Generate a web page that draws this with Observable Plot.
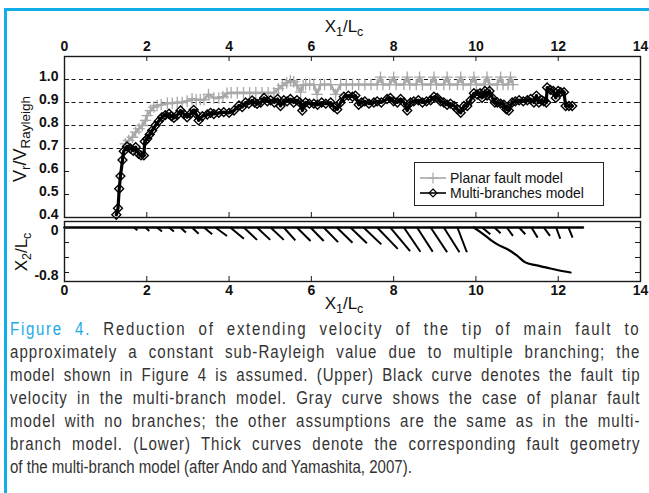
<!DOCTYPE html>
<html>
<head>
<meta charset="utf-8">
<script src="https://cdn.jsdelivr.net/npm/d3@7"></script>
<script src="https://cdn.jsdelivr.net/npm/@observablehq/plot@0.6"></script>
<style>
  html, body { margin: 0; padding: 0; background: #fff; }
  body { width: 649px; height: 493px; overflow: hidden; position: relative;
         font-family: "Liberation Sans", Arial, sans-serif; }
  #rim { position: absolute; left: 4px; top: 8px; width: 700px; height: 520px;
         border-left: 3px solid #12aee8; border-top: 3px solid #12aee8; }
  .panel { position: absolute; left: 0; }
  .title { position: absolute; font-size: 17px; color: #111; white-space: nowrap; line-height: 1; }
  .title sub { font-size: 12.5px; vertical-align: -4px; }
  .title.big { font-size: 18px; }
  .title.big sub { font-size: 13.5px; }
  .rot { transform: translate(-50%, -50%) rotate(-90deg); }
  .ctr { transform: translate(-50%, -50%); }
  #legend { position: absolute; left: 414px; top: 162px; width: 188px; height: 42px;
            border: 1px solid #222; background: #fff; font-size: 14px; color: #111; }
  #legend .row { position: absolute; left: 4px; height: 15px; display: flex; align-items: center; }
  #legend svg { margin-right: 3px; }
  #caption { position: absolute; left: 10px; top: 318px; width: 733px;
             transform: scaleX(0.86); transform-origin: 0 0;
             font-family: "Liberation Sans", Arial, sans-serif;
             font-size: 17.5px; line-height: 23px; color: #333; }
  #caption .ln { white-space: nowrap; text-align: justify; text-align-last: justify; }
  #caption .ln.last { text-align-last: left; }
  #caption .fig { color: #1aaae6; }
</style>
</head>
<body>
<div id="rim"></div>
<div id="upper" class="panel" style="top:0"></div>
<div id="lower" class="panel" style="top:218px"></div>

<div class="title ctr" style="left:344px; top:28px">X<sub>1</sub>/L<sub>c</sub></div>
<div class="title ctr" style="left:344px; top:305px">X<sub>1</sub>/L<sub>c</sub></div>
<div class="title big rot" style="left:22px; top:139px">V<sub>r</sub>/V<sub>Rayleigh</sub></div>
<div class="title rot" style="left:23px; top:252px">X<sub>2</sub>/L<sub>c</sub></div>

<div id="legend"></div>

<div id="caption">
  <div class="ln"><span class="t"><span class="fig">Figure 4.</span> Reduction of extending velocity of the tip of main fault to</span></div>
  <div class="ln"><span class="t">approximately a constant sub-Rayleigh value due to multiple branching; the</span></div>
  <div class="ln"><span class="t">model shown in Figure 4 is assumed. (Upper) Black curve denotes the fault tip</span></div>
  <div class="ln"><span class="t">velocity in the multi-branch model. Gray curve shows the case of planar fault</span></div>
  <div class="ln"><span class="t">model with no branches; the other assumptions are the same as in the multi-</span></div>
  <div class="ln"><span class="t">branch model. (Lower) Thick curves denote the corresponding fault geometry</span></div>
  <div class="ln last"><span class="t">of the multi-branch model (after Ando and Yamashita, 2007).</span></div>
</div>

<script>
// ---- Tip velocity, planar fault model (gray, "+") ----
const planarX = [1.48, 1.56, 1.65, 1.73, 1.81, 1.89, 1.97, 2.01, 2.09, 2.17, 2.25, 2.35, 2.5, 2.62, 2.74, 2.86, 2.98, 3.1, 3.2, 3.3, 3.39, 3.5, 3.63, 3.75, 3.85, 3.95,
  4.05, 4.2, 4.35, 4.5, 4.65, 4.8, 4.95, 5.09, 5.2, 5.3, 5.4, 5.49, 5.57, 5.65, 5.74, 5.8, 5.86, 5.96, 6.06, 6.14, 6.22, 6.32, 6.47, 6.59, 6.71, 6.85, 7.0, 7.15, 7.3, 7.45, 7.6,
  7.68, 7.74, 7.9, 8.0, 8.06, 8.25, 8.33, 8.39, 8.55, 8.63, 8.7, 8.9, 8.98, 9.04, 9.22, 9.3, 9.36, 9.55, 9.63, 9.69, 9.87, 9.95, 10.01, 10.2, 10.27, 10.33, 10.52, 10.6, 10.66, 10.78, 10.84, 10.9];
const planarV = [0.72, 0.735, 0.749, 0.771, 0.786, 0.8, 0.822, 0.843, 0.865, 0.88, 0.887, 0.89, 0.897, 0.897, 0.9, 0.9, 0.906, 0.916, 0.912, 0.912, 0.912, 0.935, 0.92, 0.92, 0.925, 0.94,
  0.942, 0.942, 0.942, 0.942, 0.942, 0.942, 0.942, 0.942, 0.96, 0.974, 0.985, 0.995, 0.99, 0.974, 0.945, 0.975, 0.978, 0.978, 0.978, 0.935, 0.978, 0.978, 0.978, 0.935, 0.978, 0.978, 0.978, 0.978, 0.978, 0.978, 0.978,
  1.01, 0.978, 0.978, 1.01, 0.978, 0.978, 1.01, 0.978, 0.978, 1.01, 0.978, 0.978, 1.01, 0.978, 0.978, 1.01, 0.978, 0.978, 1.01, 0.978, 0.978, 1.01, 0.978, 0.978, 1.01, 0.978, 0.978, 1.01, 0.978, 0.978, 1.01, 0.978];

// ---- Tip velocity, multi-branches model (black, diamonds) ----
const branchedX = [1.26, 1.3, 1.33, 1.36, 1.41, 1.44, 1.52, 1.6, 1.67, 1.73, 1.8, 1.86, 1.93, 1.95, 2.01, 2.07, 2.13, 2.21, 2.29, 2.37, 2.45, 2.54, 2.6, 2.66, 2.74, 2.82, 2.9, 2.98, 3.06, 3.14, 3.2, 3.26, 3.35, 3.47, 3.55, 3.63, 3.75, 3.87, 4.0, 4.12,
  4.24, 4.32, 4.4, 4.48, 4.56, 4.62, 4.68, 4.77, 4.85, 4.93, 5.01, 5.1, 5.18, 5.25, 5.33, 5.41, 5.49, 5.57, 5.65, 5.72, 5.78, 5.86, 5.95, 6.06, 6.15, 6.25, 6.35, 6.47, 6.55, 6.63, 6.71, 6.79, 6.9, 7.0, 7.07, 7.15, 7.22, 7.3, 7.4, 7.52, 7.6, 7.7, 7.84, 7.92, 8.0, 8.09, 8.17, 8.25, 8.33, 8.41, 8.49, 8.6, 8.7, 8.8, 8.9, 8.98, 9.06, 9.14, 9.22, 9.3, 9.38, 9.47, 9.55, 9.63, 9.71, 9.79, 9.87, 9.95, 10.03, 10.1, 10.15, 10.22, 10.27, 10.33, 10.4, 10.46, 10.52, 10.6, 10.68, 10.74, 10.8, 10.88, 10.96, 11.05, 11.15, 11.25, 11.33, 11.41, 11.47, 11.53, 11.6, 11.65, 11.71, 11.73, 11.81, 11.88, 11.94, 12.0, 12.06, 12.14, 12.18, 12.26, 12.34];
const branchedV = [0.412, 0.44, 0.525, 0.58, 0.65, 0.688, 0.709, 0.7, 0.69, 0.706, 0.677, 0.67, 0.67, 0.73, 0.742, 0.761, 0.778, 0.8, 0.819, 0.836, 0.845, 0.851, 0.84, 0.833, 0.845, 0.865, 0.85, 0.836, 0.85, 0.868, 0.85, 0.822, 0.84, 0.848, 0.855, 0.85, 0.855, 0.858, 0.855, 0.865,
  0.887, 0.88, 0.9, 0.895, 0.909, 0.9, 0.894, 0.9, 0.92, 0.905, 0.91, 0.9, 0.915, 0.885, 0.91, 0.905, 0.915, 0.9, 0.91, 0.9, 0.865, 0.9, 0.895, 0.895, 0.89, 0.9, 0.895, 0.9, 0.88, 0.87, 0.9, 0.925, 0.93, 0.925, 0.93, 0.89, 0.9, 0.905, 0.895, 0.9, 0.905, 0.9, 0.915, 0.92, 0.905, 0.9, 0.915, 0.9, 0.865, 0.9, 0.905, 0.91, 0.9, 0.905, 0.91, 0.925, 0.92, 0.905, 0.9, 0.89, 0.895, 0.885, 0.87, 0.855, 0.885, 0.885, 0.91, 0.94, 0.935, 0.94, 0.92, 0.95, 0.93, 0.95, 0.92, 0.9, 0.9, 0.895, 0.89, 0.87, 0.865, 0.9, 0.905, 0.91, 0.905, 0.91, 0.915, 0.9, 0.93, 0.9, 0.91, 0.905, 0.9, 0.965, 0.955, 0.95, 0.92, 0.95, 0.945, 0.945, 0.885, 0.885, 0.885];

// ---- Fault geometry (lower panel) ----
const mainFaultX = [0, 12.6];
const mainFaultY = [0, 0];
// long branch that takes over near the end
const longBranchX = [9.95, 10.2, 10.5, 10.8, 11.0, 11.2, 11.45, 11.7, 12.0, 12.3];
const longBranchY = [0, -0.13, -0.29, -0.4, -0.5, -0.62, -0.67, -0.71, -0.76, -0.8];
// short branches: start on the main fault, end point below it
const branchStart = [1.69, 1.97, 2.25, 2.54, 2.82, 3.1, 3.39, 3.67, 4.03, 4.36, 4.68, 5.01, 5.33, 5.65, 5.98, 6.3, 6.62, 6.95, 7.27, 7.6, 7.92, 8.25, 8.57, 8.9, 9.22, 9.55, 10.15, 10.45, 10.75, 11.05, 11.35, 11.65, 11.95, 12.25];
const branchEndX  = [1.77, 2.06, 2.37, 2.66, 2.95, 3.26, 3.59, 3.95, 4.36, 4.68, 5.0, 5.33, 5.61, 5.98, 6.3, 6.65, 7.0, 7.35, 7.7, 8.1, 8.4, 8.65, 8.95, 9.3, 9.6, 9.78, 10.35, 10.6, 10.9, 11.2, 11.5, 11.8, 12.05, 12.35];
const branchEndY  = [-0.05, -0.06, -0.07, -0.07, -0.09, -0.11, -0.12, -0.15, -0.2, -0.22, -0.22, -0.22, -0.23, -0.24, -0.24, -0.26, -0.27, -0.28, -0.3, -0.38, -0.42, -0.43, -0.43, -0.44, -0.44, -0.44, -0.12, -0.1, -0.15, -0.12, -0.18, -0.15, -0.2, -0.18];

// ---- Axis ticks ----
const xTicks = [0, 2, 4, 6, 8, 10, 12, 14];
const vTicks = [0.4, 0.5, 0.6, 0.7, 0.8, 0.9, 1.0];
const vGrid = [0.7, 0.8, 0.9, 1.0];
const x2Ticks = [0, -0.267, -0.533, -0.8];
const x2Labels = [0, -0.8];

const planar = planarX.map((x, i) => ({x, v: planarV[i]}));
const branched = branchedX.map((x, i) => ({x, v: branchedV[i]}));
const mainFault = mainFaultX.map((x, i) => ({x, y: mainFaultY[i]}));
const longBranch = longBranchX.map((x, i) => ({x, y: longBranchY[i]}));
const branches = branchStart.map((x0, i) => ({x0, x1: branchEndX[i], y1: branchEndY[i]}));

const W = 649, ML = 64, MR = 9;
const font = {fontFamily: "'Liberation Sans', Arial, sans-serif", fontSize: "14px", fontWeight: "bold", color: "#111", background: "transparent", overflow: "visible"};
const ink = "#1a1a1a";

// ---- upper panel: tip velocity ----
const uTop = 56, uH = 218, uBottom = 1;
const uFrame = uH - uTop - uBottom;
const upper = Plot.plot({
  width: W, height: uH,
  marginLeft: ML, marginRight: MR, marginTop: uTop, marginBottom: uBottom,
  x: {domain: [0, 14], axis: null},
  y: {domain: [0.4, 1.1], axis: null},
  style: font,
  marks: [
    Plot.ruleY(vGrid, {y: d => d, stroke: ink, strokeWidth: 1, strokeDasharray: "4,3.5"}),
    Plot.line(planar, {x: "x", y: "v", stroke: "#a8a8a8", strokeWidth: 2.6}),
    Plot.dot(planar, {x: "x", y: "v", symbol: "plus", r: 3.8, stroke: "#a8a8a8", strokeWidth: 1.3}),
    Plot.line(branched, {x: "x", y: "v", stroke: "#000", strokeWidth: 3.2}),
    Plot.dot(branched, {x: "x", y: "v", symbol: "diamond2", r: 4, stroke: "#000", strokeWidth: 1.4, fill: "none"}),
    Plot.tickX(xTicks, {x: d => d, insetBottom: uFrame - 5, stroke: ink}),
    Plot.tickX(xTicks, {x: d => d, insetTop: uFrame - 5, stroke: ink}),
    Plot.tickY(vTicks, {y: d => d, insetLeft: W - ML - MR - 5, stroke: ink}),
    Plot.tickY(vTicks, {y: d => d, insetRight: W - ML - MR - 5, stroke: ink}),
    Plot.axisX(xTicks, {anchor: "top", tickSize: 0, tickPadding: 6, label: null, fill: "#111"}),
    Plot.axisY(vTicks, {anchor: "left", tickSize: 0, tickPadding: 6, dy: -2.5, label: null, tickFormat: d3.format(".1f"), fill: "#111"}),
    Plot.frame({stroke: ink, strokeWidth: 1.4})
  ]
});
document.getElementById("upper").append(upper);

// ---- lower panel: fault geometry ----
const lTop = 3, lH = 100, lBottom = 37;
const lFrame = lH - lTop - lBottom;
const lower = Plot.plot({
  width: W, height: lH,
  marginLeft: ML, marginRight: MR, marginTop: lTop, marginBottom: lBottom,
  x: {domain: [0, 14], axis: null},
  y: {domain: [-0.96, 0.107], axis: null},
  style: font,
  marks: [
    Plot.link(branches, {x1: "x0", y1: () => 0, x2: "x1", y2: "y1", stroke: "#000", strokeWidth: 2}),
    Plot.line(longBranch, {x: "x", y: "y", stroke: "#000", strokeWidth: 2.2, curve: "catmull-rom"}),
    Plot.line(mainFault, {x: "x", y: "y", stroke: "#000", strokeWidth: 2.6}),
    Plot.tickX(xTicks, {x: d => d, insetTop: lFrame - 5, stroke: ink}),
    Plot.tickY(x2Ticks, {y: d => d, insetLeft: W - ML - MR - 5, stroke: ink}),
    Plot.tickY(x2Ticks, {y: d => d, insetRight: W - ML - MR - 5, stroke: ink}),
    Plot.axisX(xTicks, {anchor: "bottom", tickSize: 0, tickPadding: 4, label: null, fill: "#111"}),
    Plot.axisY(x2Labels, {anchor: "left", tickSize: 0, tickPadding: 6, dy: 3, label: null, tickFormat: d => d === 0 ? "0" : d3.format(".1f")(d).replace("\u2212", "-"), fill: "#111"}),
    Plot.frame({stroke: ink, strokeWidth: 1.4})
  ]
});
document.getElementById("lower").append(lower);

// ---- legend ----
const legendItems = [
  {label: "Planar fault model", color: "#a8a8a8", symbol: d3.symbolPlus},
  {label: "Multi-branches model", color: "#000", symbol: d3.symbolDiamond2}
];
const legend = d3.select("#legend");
legendItems.forEach((it, i) => {
  const row = legend.append("div").attr("class", "row").style("top", (7 + i * 15) + "px");
  const s = row.append("svg").attr("width", 28).attr("height", 12);
  s.append("line").attr("x1", 1).attr("x2", 27).attr("y1", 6).attr("y2", 6)
    .attr("stroke", it.color).attr("stroke-width", 1.6);
  s.append("path").attr("transform", "translate(14,6)")
    .attr("d", d3.symbol(it.symbol, 40)())
    .attr("fill", "none").attr("stroke", it.color).attr("stroke-width", 1.2);
  row.append("span").text(it.label);
});

// ---- caption: share the justification slack between letters and words ----
const capWidth = 733;
document.querySelectorAll("#caption .ln:not(.last)").forEach(ln => {
  const t = ln.querySelector(".t");
  ln.style.textAlignLast = "left";          // measure the unjustified line
  const slack = capWidth - t.getBoundingClientRect().width / 0.86;
  ln.style.textAlignLast = "";
  const n = t.textContent.length;
  if (slack > 0 && n > 1) ln.style.letterSpacing = (0.6 * slack / n).toFixed(3) + "px";
});
</script>
</body>
</html>
